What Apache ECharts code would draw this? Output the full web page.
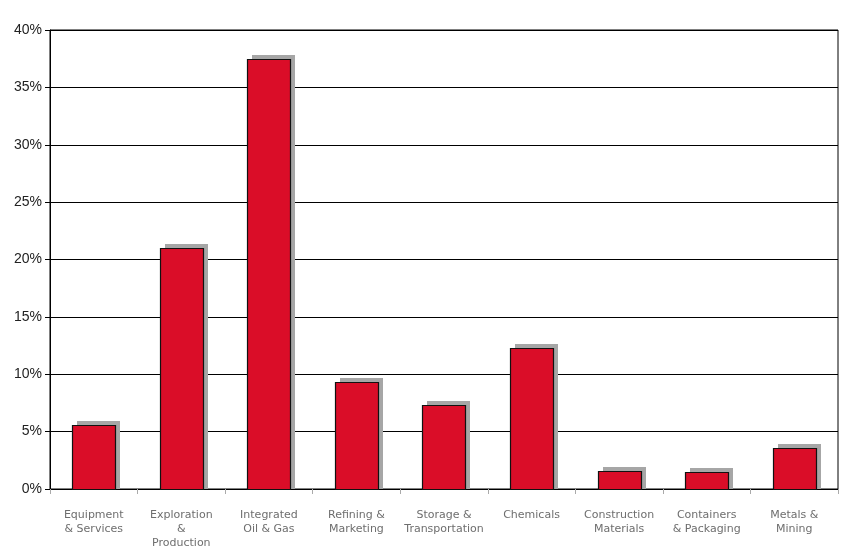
<!DOCTYPE html>
<html>
<head>
<meta charset="utf-8">
<script src="https://cdn.jsdelivr.net/npm/echarts@6/dist/echarts.min.js"></script>
<style>html,body{margin:0;padding:0;background:#fff}#c{width:858px;height:550px}</style>
</head>
<body>
<div id="c"></div>
<script>
const categories = ["Equipment\n& Services", "Exploration\n&\nProduction", "Integrated\nOil & Gas", "Refining &\nMarketing", "Storage &\nTransportation", "Chemicals", "Construction\nMaterials", "Containers\n& Packaging", "Metals &\nMining"];
const values = [5.6, 21.0, 37.5, 9.3, 7.3, 12.3, 1.6, 1.5, 3.6];
const yTicks = [0, 5, 10, 15, 20, 25, 30, 35, 40];

const chart = echarts.init(document.getElementById('c'));
chart.setOption({
  animation: false,
  grid: {left: 50, right: 20, top: 30, bottom: 60, show: true, borderColor: '#000', borderWidth: 1},
  xAxis: {
    type: 'category',
    data: categories,
    axisLine: {lineStyle: {color: '#000', width: 1}},
    axisTick: {show: true, length: 5, lineStyle: {color: '#aaa'}},
    axisLabel: {color: '#6e6e6e', fontFamily: 'DejaVu Sans', fontSize: 11, lineHeight: 14, margin: 19, interval: 0}
  },
  yAxis: {
    type: 'value',
    min: yTicks[0], max: yTicks[yTicks.length - 1], interval: 5,
    axisLine: {show: true, lineStyle: {color: '#000'}},
    axisTick: {show: true, length: 5, lineStyle: {color: '#000'}},
    axisLabel: {color: '#222', fontFamily: 'Liberation Sans', fontSize: 14, margin: 8, formatter: v => v + '%'},
    splitLine: {show: true, lineStyle: {color: '#000', width: 1}}
  },
  series: [{
    type: 'custom',
    data: values.map((v, i) => [i, v]),
    encode: {x: 0, y: 1},
    renderItem: function (params, api) {
      const top = api.coord([api.value(0), api.value(1)]);
      const base = api.coord([api.value(0), 0]);
      const w = 43;
      const x = Math.round(top[0] - w / 2);
      const yTop = Math.round(top[1]);
      const yBase = Math.round(base[1]);
      return {
        type: 'group',
        children: [
          {type: 'rect', shape: {x: x + 5, y: yTop - 4, width: w, height: yBase - yTop + 4}, style: {fill: '#A6A6A6'}},
          {type: 'rect', shape: {x: x + 0.5, y: yTop + 0.5, width: w, height: yBase - yTop}, style: {fill: '#DA0D28', stroke: '#111', lineWidth: 1.2}}
        ]
      };
    }
  }]
});
</script>
</body>
</html>
